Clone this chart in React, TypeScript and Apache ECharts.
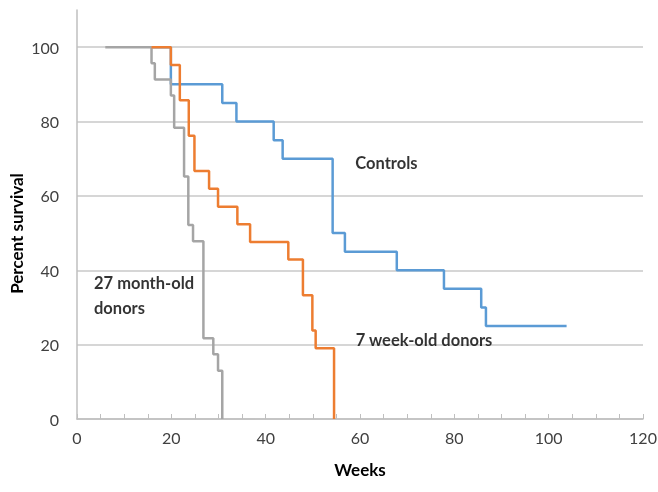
import React, { useEffect, useRef } from "react";
import * as echarts from "echarts";

// Kaplan-Meier steps: [week, percent surviving after the event]
const controls: number[][] = [
  [16, 100], [19.9, 90], [30.8, 85], [33.8, 80], [41.7, 75], [43.6, 70],
  [54.2, 50], [56.8, 45], [67.8, 40], [77.8, 35], [85.7, 30], [86.7, 25], [103.8, 25],
];
const weekOld7: number[][] = [
  [15.8, 100], [19.9, 95.2], [21.8, 85.7], [23.7, 76.2], [24.9, 66.7], [28.0, 61.9],
  [29.9, 57.1], [34.0, 52.4], [36.7, 47.6], [44.8, 42.9], [47.9, 33.3], [49.9, 23.8],
  [50.6, 19.0], [54.5, 0],
];
const monthOld27: number[][] = [
  [6, 100], [15.8, 95.7], [16.5, 91.3], [19.9, 87.0], [20.6, 78.3], [22.7, 65.2],
  [23.6, 52.2], [24.6, 47.8], [26.8, 21.7], [28.9, 17.4], [29.9, 13.0], [30.8, 0],
];

// annotation texts with the data coordinates they sit at
const annotations: (string | number)[][] = [
  [59.0, 68.8, "Controls"],
  [3.6, 36.6, "27 month-old"],
  [3.6, 29.8, "donors"],
  [59.1, 21.2, "7 week-old donors"],
];

const xTickLabels = [0, 20, 40, 60, 80, 100, 120];

export default function App() {
  const ref = useRef<HTMLDivElement>(null);
  useEffect(() => {
    const chart = echarts.init(ref.current!, null, { renderer: "svg" });
    const font = "Lato, 'Open Sans', sans-serif";
    chart.setOption({
      animation: false,
      grid: {
        left: 77,
        right: 15,
        top: 10,
        bottom: 73,
        containLabel: false,
        outerBoundsMode: "none",
      },
      xAxis: {
        type: "value",
        min: 0,
        max: 120,
        interval: 5,
        name: "Weeks",
        nameLocation: "middle",
        nameGap: 42,
        nameMoveOverlap: false,
        nameTextStyle: { fontFamily: font, fontWeight: "bold", fontSize: 17, color: "#000" },
        axisLine: { show: true, lineStyle: { color: "#BFBFBF", width: 1.5 } },
        axisTick: { show: true, inside: true, length: 5, lineStyle: { color: "#BFBFBF" } },
        axisLabel: {
          fontFamily: font,
          fontSize: 16,
          color: "#404040",
          margin: 10,
          formatter: (v: number) => (xTickLabels.includes(v) ? String(v) : ""),
        },
        splitLine: { show: false },
      },
      yAxis: {
        type: "value",
        min: 0,
        max: 110,
        interval: 20,
        name: "Percent survival",
        nameLocation: "middle",
        nameGap: 52,
        nameMoveOverlap: false,
        nameTextStyle: {
          fontFamily: font,
          fontWeight: "bold",
          fontSize: 17,
          color: "#000",
          padding: [0, 38, 0, 0],
        },
        axisLine: { show: true, lineStyle: { color: "#BFBFBF", width: 1.5 } },
        axisTick: { show: false },
        axisLabel: {
          fontFamily: font,
          fontSize: 16,
          color: "#404040",
          margin: 18,
          showMaxLabel: false,
        },
        splitLine: { show: true, showMaxLine: false, lineStyle: { color: "#C9C9C9", width: 1.5 } },
      },
      series: [
        {
          type: "line",
          name: "Controls",
          data: controls,
          step: "end",
          symbol: "none",
          z: 2,
          lineStyle: { color: "#5B9BD5", width: 2.5 },
        },
        {
          type: "line",
          name: "27 month-old donors",
          data: monthOld27,
          step: "end",
          symbol: "none",
          z: 3,
          lineStyle: { color: "#A5A5A5", width: 2.5 },
        },
        {
          type: "line",
          name: "7 week-old donors",
          data: weekOld7,
          step: "end",
          symbol: "none",
          z: 4,
          lineStyle: { color: "#ED7D31", width: 2.5 },
        },
        {
          type: "scatter",
          data: annotations.map((a) => ({ value: [a[0], a[1]], name: a[2] })),
          symbolSize: 0,
          silent: true,
          z: 5,
          label: {
            show: true,
            position: "right",
            distance: 0,
            formatter: (p: any) => p.name,
            fontFamily: font,
            fontWeight: "bold",
            fontSize: 16.5,
            color: "#000",
          },
        },
      ],
    });
    return () => chart.dispose();
  }, []);
  return (
    <div
      ref={ref}
      style={{ position: "fixed", left: 0, top: 0, width: 658, height: 492 }}
    />
  );
}
